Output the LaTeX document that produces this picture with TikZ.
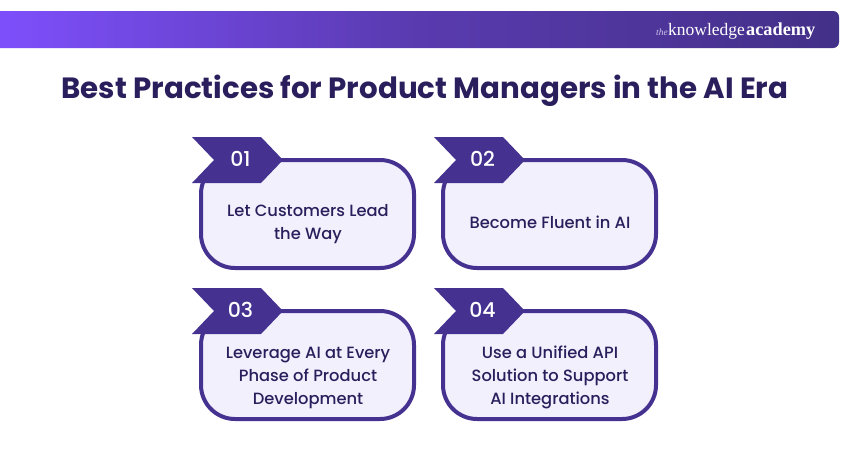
\documentclass[tikz,border=0pt]{standalone}
\usepackage{fontspec}
\setmainfont{Poppins}
\newfontfamily\popmed{Poppins Medium}
\newfontfamily\logofont{Liberation Serif}
\usetikzlibrary{calc}
\definecolor{ink}{HTML}{2A1F5C}
\definecolor{edge}{HTML}{453290}
\definecolor{fillbox}{HTML}{F2F0FD}
\definecolor{gradL}{HTML}{7F50FF}
\definecolor{gradM}{HTML}{5A3BB0}
\definecolor{gradR}{HTML}{433088}
\definecolor{logothe}{HTML}{CFC6EE}
\tikzset{
  x=1pt,y=-1pt,
  cardbox/.style={draw=edge,fill=fillbox,line width=4pt,rounded corners=34pt,minimum width=213pt,minimum height=108pt,inner sep=0pt,outer sep=0pt},
  cardtext/.style={text=ink,font=\popmed\fontsize{16.3}{23}\selectfont,align=center,inner sep=0pt},
  tagshape/.style={fill=edge,draw=none},
  tagnum/.style={text=white,font=\popmed\fontsize{20.5}{24}\selectfont,inner sep=0pt},
  titletext/.style={text=ink,font=\fontsize{29.3}{34}\selectfont\bfseries,inner sep=0pt},
}
\newcommand{\card}[6]{%
  % #1 name, #2 left x, #3 top y of tag, #4 number, #5 text, #6 text centre y
  \node[cardbox,anchor=north west] (#1) at (#2+9,#3+23) {};
  \fill[tagshape] (#2,#3) -- (#2+69,#3) -- (#2+91,#3+23) -- (#2+69,#3+46) -- (#2,#3+46) -- (#2+22,#3+23) -- cycle;
  \node[tagnum] (#1num) at (#2+48.5,#3+22) {#4};
  \node[cardtext] (#1text) at (#2+116,#6) {#5};
}
\begin{document}
\begin{tikzpicture}
\useasboundingbox (0,0) rectangle (850,450);
\fill[white] (0,0) rectangle (850,450);
\begin{scope}
\clip[rounded corners=6pt] (-20,11) rectangle (839,48);
\shade[left color=gradL,right color=gradR,middle color=gradM] (-20,11) rectangle (839,48);
\end{scope}
\node[anchor=base west,inner sep=0pt,text=logothe,font=\logofont\itshape\fontsize{9.5}{12}\selectfont] (logothe) at (656,35.5) {the};
\node[anchor=base west,inner sep=0pt,text=white,font=\logofont\fontsize{17.5}{20}\selectfont] (logoknow) at (668,35.5) {knowledge};
\node[anchor=base west,inner sep=0pt,text=white,font=\logofont\bfseries\fontsize{18.3}{20}\selectfont] (logoacad) at (746,35.5) {academy};
\node[titletext] (title) at (425,91) {Best Practices for Product Managers in the AI Era};
\card{a}{192}{137}{01}{Let Customers Lead\\the Way}{224}
\card{b}{434}{137}{02}{Become Fluent in AI}{222}
\card{c}{192}{288}{03}{Leverage AI at Every\\Phase of Product\\Development}{378}
\card{d}{434}{288}{04}{Use a Unified API\\Solution to Support\\AI Integrations}{377.3}
\end{tikzpicture}
\end{document}
